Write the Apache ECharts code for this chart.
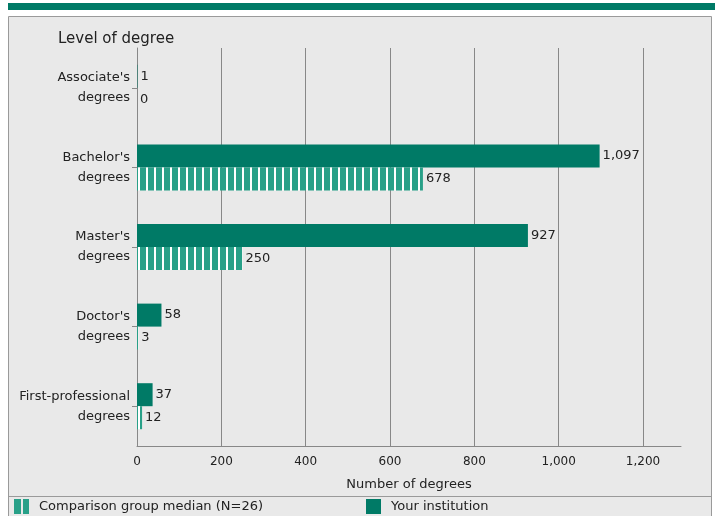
<!DOCTYPE html>
<html><head><meta charset="utf-8">
<script src="https://cdn.jsdelivr.net/npm/echarts@6/dist/echarts.min.js"></script>
<style>html,body{margin:0;padding:0;background:#fff;}#c{width:720px;height:516px;}</style>
</head><body><div id="c"></div>
<script>
const categories = ["Associate's\ndegrees", "Bachelor's\ndegrees", "Master's\ndegrees", "Doctor's\ndegrees", "First-professional\ndegrees"];
const institution = [1, 1097, 927, 58, 37];
const comparison = [0, 678, 250, 3, 12];
const xTicks = [0, 200, 400, 600, 800, 1000, 1200];
const seriesNames = ["Your institution", "Comparison group median (N=26)"];

const FONT = "DejaVu Sans";
const DARK = '#007a66';
const LIGHT = '#28a088';

function stripe() {
  const c = document.createElement('canvas');
  c.width = 8; c.height = 8;
  const g = c.getContext('2d');
  g.fillStyle = LIGHT; g.fillRect(0, 0, 8, 8);
  g.fillStyle = '#ffffff'; g.fillRect(2, 0, 2, 8);
  return c;
}
function legendIcon() {
  const c = document.createElement('canvas');
  c.width = 15; c.height = 15;
  const g = c.getContext('2d');
  g.fillStyle = LIGHT; g.fillRect(0, 0, 15, 15);
  g.fillStyle = '#e9e9e9'; g.fillRect(7, 0, 2, 15);
  return 'image://' + c.toDataURL();
}
const pat = { image: stripe(), repeat: 'repeat' };

const chart = echarts.init(document.getElementById('c'));
const fmt = v => v.toLocaleString('en-US');
const txt = { fontFamily: FONT, fontSize: 13, color: '#222' };
const legTxt = { fontFamily: FONT, fontSize: 13, color: '#222', padding: [0, 0, 0, 5] };
chart.setOption({
  animation: false,
  backgroundColor: '#ffffff',
  textStyle: { fontFamily: FONT },
  graphic: [
    { type: 'rect', shape: { x: 8, y: 3, width: 707, height: 7 }, style: { fill: '#007a66' }, z: -10 },
    { type: 'rect', shape: { x: 8.5, y: 16.5, width: 703, height: 510 }, style: { fill: '#e9e9e9', stroke: '#9a9a9a', lineWidth: 1 }, z: -10 },
    { type: 'line', shape: { x1: 8, y1: 496.5, x2: 712, y2: 496.5 }, style: { stroke: '#9a9a9a', lineWidth: 1 }, z: -9 }
  ],
  title: { text: 'Level of degree', left: 58, top: 32, padding: 0, textStyle: { fontFamily: FONT, fontSize: 15, fontWeight: 'normal', color: '#222' } },
  legend: [
    { data: [{ name: seriesNames[1], icon: legendIcon() }], left: 14, top: 499, padding: 0, itemWidth: 15, itemHeight: 15, textStyle: legTxt },
    { data: [seriesNames[0]], left: 366, top: 499, padding: 0, itemWidth: 15, itemHeight: 15, icon: 'rect', textStyle: legTxt }
  ],
  grid: { left: 137, right: 39, top: 48, bottom: 70, containLabel: false },
  xAxis: {
    type: 'value', min: 0, max: 1290, interval: 200,
    name: 'Number of degrees', nameLocation: 'middle', nameGap: 32,
    nameTextStyle: txt,
    axisLine: { show: true, lineStyle: { color: '#888' } },
    axisTick: { show: false },
    axisLabel: { fontFamily: FONT, fontSize: 12, color: '#222', margin: 10, showMaxLabel: false, formatter: v => xTicks.includes(v) ? fmt(v) : '' },
    splitLine: { show: true, lineStyle: { color: ['#888', '#888', '#888', '#888', '#888', '#888', '#888', 'rgba(0,0,0,0)'], width: 1 } }
  },
  yAxis: {
    type: 'category', data: categories, inverse: true,
    axisLine: { show: true, lineStyle: { color: '#888' } },
    axisTick: { show: true, alignWithLabel: true, length: 5, lineStyle: { color: '#888' } },
    axisLabel: { fontFamily: FONT, fontSize: 13, color: '#222', margin: 7, lineHeight: 20, align: 'right' },
    splitLine: { show: false }
  },
  series: [
    { name: seriesNames[0], type: 'bar', data: institution, barWidth: 23, barGap: '0%',
      itemStyle: { color: DARK },
      label: { show: true, position: 'right', distance: 3, fontFamily: FONT, fontSize: 13, color: '#222', formatter: p => fmt(p.value) } },
    { name: seriesNames[1], type: 'bar', data: comparison, barWidth: 23,
      itemStyle: { color: pat },
      label: { show: true, position: 'right', distance: 3, fontFamily: FONT, fontSize: 13, color: '#222', formatter: p => fmt(p.value) } }
  ]
});
</script></body></html>
